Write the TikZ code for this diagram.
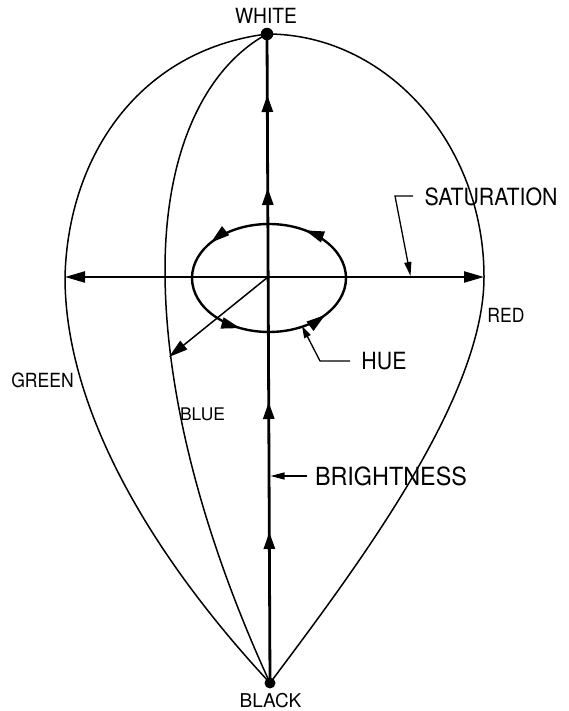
\documentclass[tikz,border=0pt]{standalone}
\usepackage{fontspec}
\usepackage{graphicx}
\setmainfont{TeX Gyre Heros}
\usetikzlibrary{arrows.meta,decorations.markings}
\tikzset{
  vhead/.tip={Triangle[length=17pt,width=11pt]},
  hhead/.tip={Triangle[length=20pt,width=11pt]},
  ehead/.tip={Triangle[length=19pt,width=11pt]},
  lhead/.tip={Triangle[length=14pt,width=7pt]},
  curve/.style={line width=1.5pt},
  vaxis/.style={line width=2.8pt},
  haxis/.style={line width=2.2pt},
  ell/.style={line width=2.4pt},
  leader/.style={line width=1.3pt},
  lbl/.style={inner sep=0pt,anchor=center},
  dotw/.style={circle,fill=black,inner sep=0pt,minimum size=12.5pt},
  dotb/.style={circle,fill=black,inner sep=0pt,minimum size=11pt}
}
\newcommand{\lettering}[3]{{\fontsize{#1}{#1}\selectfont\scalebox{#2}[1]{#3}}}
\begin{document}
\begin{tikzpicture}[x=1pt,y=1pt]
\useasboundingbox (0,0) rectangle (569,711);
% key points
\coordinate (W) at (267,677);
\coordinate (B) at (270,28);
\coordinate (L) at (65,434);
\coordinate (R) at (484,434);
\coordinate (Bl) at (165,441);
\coordinate (O) at (268,434);
\coordinate (E) at (269,433);
\coordinate (D) at (169,354);
% outer teardrop
\draw[curve] (W) .. controls (386,677) and (484,568) .. (R)
                .. controls (484,314) and (360,148) .. (B);
\draw[curve] (W) .. controls (140,661) and (68,556) .. (L)
                .. controls (65,294) and (161,145) .. (B);
% blue meridian
\draw[curve] (W) .. controls (205,643) and (165,560) .. (Bl)
                .. controls (165,311) and (207,165) .. (B);
% horizontal axis
\draw[haxis,{hhead}-{hhead}] (L) -- (R);
% hue ellipse
\draw[ell,postaction={decorate},decoration={markings,
   mark=at position 0.161 with {\arrow{ehead}},
   mark=at position 0.400 with {\arrow{ehead}},
   mark=at position 0.680 with {\arrow{ehead}},
   mark=at position 0.894 with {\arrow{ehead}}}]
   (E) ellipse [x radius=77, y radius=54];
% diagonal (blue) arrow
\draw[curve,-{Triangle[length=19pt,width=11pt]}] (O) -- (D);
% brightness axis
\draw[vaxis,postaction={decorate},decoration={markings,
   mark=at position 151pt with {\arrow{vhead}},
   mark=at position 281pt with {\arrow{vhead}},
   mark=at position 495pt with {\arrow{vhead}},
   mark=at position 588pt with {\arrow{vhead}}}]
   (B) -- (W);
% pole dots
\node[dotw] (wdot) at (W) {};
\node[dotb] (bdot) at (B) {};
% labels
\node[lbl] (white) at (266,695) {\lettering{20.9}{0.92}{WHITE}};
\node[lbl] (black) at (270.5,10.5) {\lettering{19}{1}{BLACK}};
\node[lbl] (sat) at (491,514.5) {\lettering{23.7}{0.9}{SATURATION}};
\node[lbl] (red) at (506,396) {\lettering{19.5}{0.9}{RED}};
\node[lbl] (hue) at (384,349.5) {\lettering{23.7}{0.9}{HUE}};
\node[lbl] (bright) at (391,235) {\lettering{25}{0.935}{BRIGHTNESS}};
\node[lbl] (green) at (42.5,331) {\lettering{19.5}{0.9}{GREEN}};
\node[lbl] (blue) at (202.5,297) {\lettering{17.4}{1}{BLUE}};
% leaders
\coordinate (s1) at (413,515);
\coordinate (s2) at (395,515);
\coordinate (s3) at (410.5,435);
\draw[leader,-{lhead}] (s1) -- (s2) -- (s3);
\coordinate (h1) at (350,350);
\coordinate (h2) at (320,350);
\coordinate (h3) at (302,385);
\draw[leader,-{Triangle[length=12pt,width=7pt]}] (h1) -- (h2) -- (h3);
\coordinate (b1) at (307,235);
\coordinate (b3) at (270.5,235);
\draw[leader,-{Triangle[length=14pt,width=7pt]}] (b1) -- (b3);
\end{tikzpicture}
\end{document}
